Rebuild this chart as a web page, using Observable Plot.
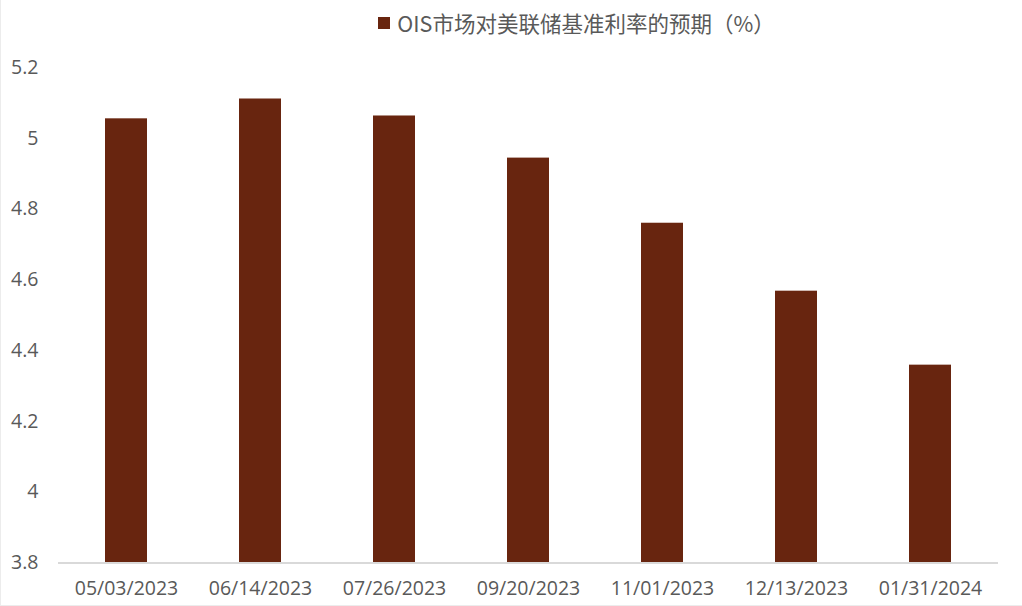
<!DOCTYPE html>
<html>
<head>
<meta charset="utf-8">
<script src="https://cdn.jsdelivr.net/npm/d3@7"></script>
<script src="https://cdn.jsdelivr.net/npm/@observablehq/plot@0.6"></script>
<style>
  html, body { margin: 0; padding: 0; background: #fff; }
  #wrap { width: 1022px; height: 606px; box-sizing: border-box; border-left: 1px solid #ececec; border-bottom: 1px solid #ececec; position: relative; overflow: hidden; }
  #legend { height: 45px; display: flex; align-items: center; justify-content: center; font-family: "Noto Sans CJK SC", "Open Sans", sans-serif; font-size: 21.5px; color: #595959; padding-left: 130px; box-sizing: border-box; }
  #legend .sw { width: 12px; height: 12px; background: #68250f; margin-right: 7px; display: inline-block; }
</style>
</head>
<body>
<div id="wrap">
  <div id="legend"><span class="sw"></span><span id="legend-text"></span></div>
  <div id="chart"></div>
</div>
<script>
const seriesName = "OIS市场对美联储基准利率的预期（%）";
const dates = ["05/03/2023", "06/14/2023", "07/26/2023", "09/20/2023", "11/01/2023", "12/13/2023", "01/31/2024"];
const values = [5.055, 5.111, 5.063, 4.944, 4.760, 4.568, 4.359];
const yTicks = [3.8, 4.0, 4.2, 4.4, 4.6, 4.8, 5.0, 5.2];

document.getElementById("legend-text").textContent = seriesName;

const data = dates.map((d, i) => ({date: d, value: values[i]}));

const chart = Plot.plot({
  width: 1021,
  height: 561,
  marginTop: 22,
  marginBottom: 43.5,
  marginLeft: 57,
  marginRight: 24,
  style: {fontFamily: "'Open Sans', sans-serif", fontSize: "19.5px", color: "#595959", background: "#fff"},
  x: {domain: dates, paddingInner: 0.69, paddingOuter: 0.345, label: null, tickSize: 0, tickPadding: 18},
  y: {domain: [3.8, 5.2], ticks: yTicks, tickFormat: d => String(+d.toFixed(1)), label: null, tickSize: 0, tickPadding: 20},
  marks: [
    Plot.rectY(data, {x: "date", y1: 3.8, y2: "value", fill: "#68250f"}),
    Plot.ruleY([3.8], {stroke: "#d9d9d9", strokeWidth: 2})
  ]
});
document.getElementById("chart").appendChild(chart);
</script>
</body>
</html>
